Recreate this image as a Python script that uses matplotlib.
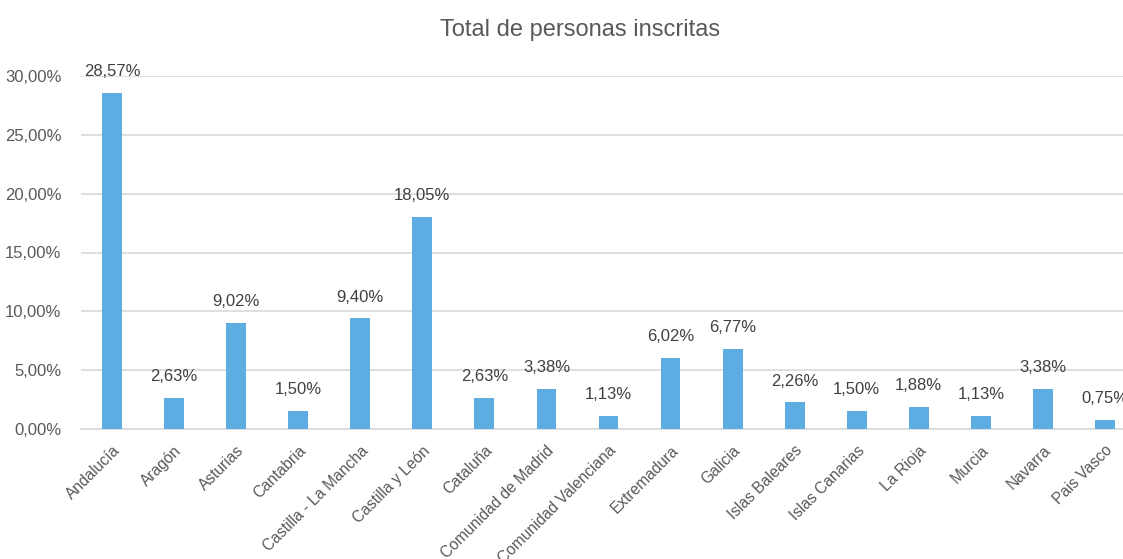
import matplotlib.pyplot as plt
from matplotlib.ticker import FuncFormatter
from matplotlib.transforms import ScaledTranslation

regiones = ["Andalucía", "Aragón", "Asturias", "Cantabria", "Castilla - La Mancha",
            "Castilla y León", "Cataluña", "Comunidad de Madrid", "Comunidad Valenciana",
            "Extremadura", "Galicia", "Islas Baleares", "Islas Canarias", "La Rioja",
            "Murcia", "Navarra", "Pais Vasco"]
porcentajes = [28.57, 2.63, 9.02, 1.50, 9.40, 18.05, 2.63, 3.38, 1.13,
               6.02, 6.77, 2.26, 1.50, 1.88, 1.13, 3.38, 0.75]

gris = '#595959'
plt.rcParams['font.family'] = ['Liberation Sans', 'DejaVu Sans']

fig = plt.figure(figsize=(11.23, 5.59), dpi=100)
ax = fig.add_axes([81 / 1123, 130 / 559, 1055 / 1123, 353 / 559])

valores = [p / 100 for p in porcentajes]
barras = ax.bar(range(len(regiones)), valores, width=0.32, color='#5dade2', zorder=3)

# etiquetas de datos encima de cada barra
for b, p in zip(barras, porcentajes):
    ax.annotate(f"{p:.2f}%".replace('.', ','), (b.get_x() + b.get_width() / 2, b.get_height()),
                xytext=(0, 10), textcoords='offset points', ha='center', va='bottom',
                fontsize=12, color='#404040')

ax.set_xlim(-0.5, len(regiones) - 0.5)
ax.set_ylim(0, 0.30)
ax.set_yticks([0, 0.05, 0.10, 0.15, 0.20, 0.25, 0.30])
ax.yaxis.set_major_formatter(FuncFormatter(lambda v, _: f"{v * 100:.2f}%".replace('.', ',')))
ax.set_xticks(range(len(regiones)))
ax.set_xticklabels(regiones, rotation=45, ha='right', rotation_mode='anchor', fontsize=11.2)
desplaza = ScaledTranslation(-4 / 72, 0, fig.dpi_scale_trans)
for lbl in ax.get_xticklabels():
    lbl.set_transform(lbl.get_transform() + desplaza)

ax.grid(axis='y', color='#d9d9d9', linewidth=1.2, zorder=0)
for s in ['top', 'right', 'left']:
    ax.spines[s].set_visible(False)
ax.spines['bottom'].set_color('#d9d9d9')
ax.spines['bottom'].set_linewidth(1.2)
ax.tick_params(axis='both', length=0, colors=gris)
ax.tick_params(axis='y', pad=14, labelsize=12)
ax.tick_params(axis='x', pad=10)

fig.text(580 / 1123, 1 - 30 / 559, "Total de personas inscritas", ha='center', va='center',
         fontsize=17, color=gris)

fig.savefig('out.png', dpi=100)
